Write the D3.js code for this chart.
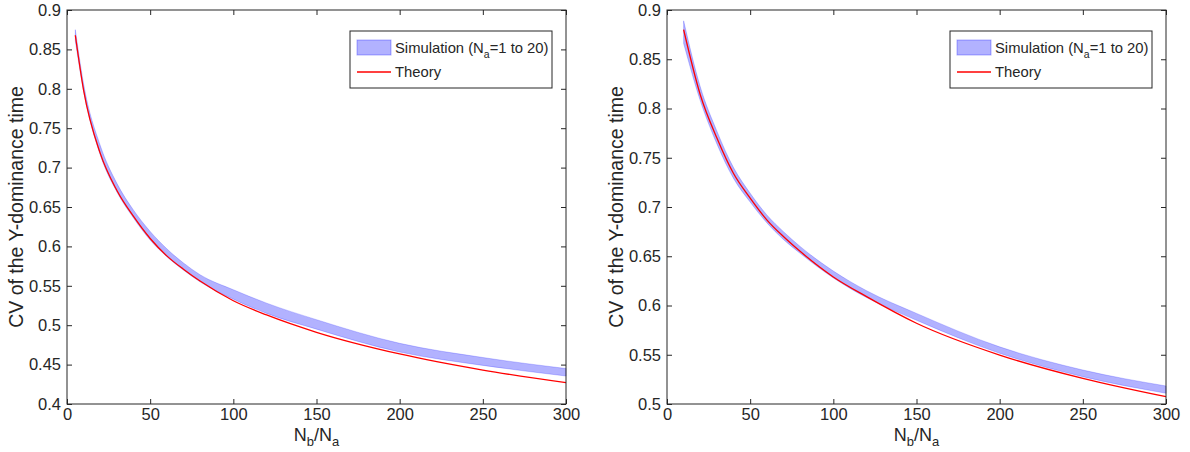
<!DOCTYPE html>
<html>
<head>
<meta charset="utf-8">
<script src="https://cdn.jsdelivr.net/npm/d3@7"></script>
<style>
  body { margin: 0; background: #fff; }
  text { font-family: "Liberation Sans", Arial, sans-serif; fill: #262626; }
</style>
</head>
<body>
<svg width="1190" height="452"></svg>
<script>
// ---- data ----
var xTicks = [0, 50, 100, 150, 200, 250, 300];

// left panel
var leftX      = [5, 10, 20, 30, 40, 50, 60, 70, 80, 100, 120, 150, 200, 250, 300];
var leftTheory = [0.868, 0.798, 0.718, 0.671, 0.638, 0.610, 0.588, 0.571, 0.556, 0.531, 0.513, 0.491, 0.4635, 0.443, 0.427];
var leftSimHi  = [0.875, 0.806, 0.728, 0.680, 0.646, 0.619, 0.597, 0.579, 0.564, 0.545, 0.528, 0.507, 0.477, 0.459, 0.445];
var leftSimLo  = [0.861, 0.797, 0.716, 0.669, 0.636, 0.608, 0.587, 0.570, 0.555, 0.533, 0.515, 0.495, 0.466, 0.449, 0.4355];
var leftYTicks = [0.4, 0.45, 0.5, 0.55, 0.6, 0.65, 0.7, 0.75, 0.8, 0.85, 0.9];

// right panel
var rightX      = [10, 20, 30, 40, 50, 60, 70, 80, 100, 120, 150, 200, 250, 300];
var rightTheory = [0.880, 0.814, 0.770, 0.734, 0.709, 0.687, 0.670, 0.655, 0.629, 0.609, 0.582, 0.5497, 0.526, 0.5074];
var rightSimHi  = [0.889, 0.822, 0.777, 0.740, 0.714, 0.692, 0.675, 0.660, 0.635, 0.615, 0.592, 0.558, 0.5345, 0.5183];
var rightSimLo  = [0.866, 0.808, 0.764, 0.729, 0.705, 0.684, 0.667, 0.653, 0.628, 0.608, 0.585, 0.5515, 0.5277, 0.5109];
var rightYTicks = [0.5, 0.55, 0.6, 0.65, 0.7, 0.75, 0.8, 0.85, 0.9];

var svg = d3.select("svg");

function panel(left, xs, theory, hi, lo, yTicks) {
  var w = 499, h = 394, top = 10;
  var g = svg.append("g").attr("transform", "translate(" + left + "," + top + ")");

  var x = d3.scaleLinear().domain([0, 300]).range([0, w]);
  var y = d3.scaleLinear().domain([yTicks[0], yTicks[yTicks.length - 1]]).range([h, 0]);

  var pts = xs.map(function(d, i) { return {x: d, t: theory[i], hi: hi[i], lo: lo[i]}; });

  // simulation band
  g.append("path")
    .datum(pts)
    .attr("d", d3.area()
      .x(function(d) { return x(d.x); })
      .y0(function(d) { return y(d.lo); })
      .y1(function(d) { return y(d.hi); })
      .curve(d3.curveMonotoneX))
    .attr("fill", "#0000ff")
    .attr("fill-opacity", 0.3)
    .attr("stroke", "#0000ff")
    .attr("stroke-opacity", 0.2)
    .attr("stroke-width", 1);

  // theory
  g.append("path")
    .datum(pts)
    .attr("d", d3.line()
      .x(function(d) { return x(d.x); })
      .y(function(d) { return y(d.t); })
      .curve(d3.curveMonotoneX))
    .attr("fill", "none")
    .attr("stroke", "#ff0000")
    .attr("stroke-width", 1.3);

  // axes, ticks pointing inward like matlab
  var fmt = function(d) { return d3.format("~g")(+d.toFixed(2)); };
  var ax = function(sel) {
    sel.select(".domain").remove();
    sel.selectAll(".tick line").attr("stroke", "#262626");
    sel.selectAll("text").attr("font-size", 16.5).attr("fill", "#262626")
      .style("font-family", "'Liberation Sans', Arial, sans-serif");
  };
  g.append("g").attr("transform", "translate(0," + h + ")")
    .call(d3.axisBottom(x).tickValues(xTicks).tickSize(-5).tickPadding(4)).call(ax);
  g.append("g")
    .call(d3.axisTop(x).tickValues(xTicks).tickSize(-5).tickFormat("")).call(ax);
  g.append("g")
    .call(d3.axisLeft(y).tickValues(yTicks).tickSize(-5).tickPadding(6).tickFormat(fmt)).call(ax);
  g.append("g").attr("transform", "translate(" + w + ",0)")
    .call(d3.axisRight(y).tickValues(yTicks).tickSize(-5).tickFormat("")).call(ax);

  g.append("rect")
    .attr("width", w).attr("height", h)
    .attr("fill", "none").attr("stroke", "#262626").attr("stroke-width", 1);

  // axis labels
  var xl = g.append("text")
    .attr("x", w / 2).attr("y", h + 37)
    .attr("text-anchor", "middle").attr("font-size", 18);
  xl.append("tspan").text("N");
  xl.append("tspan").attr("dy", 5).attr("font-size", 13).text("b");
  xl.append("tspan").attr("dy", -5).text("/N");
  xl.append("tspan").attr("dy", 5).attr("font-size", 13).text("a");

  g.append("text")
    .attr("transform", "translate(-44," + (h / 2) + ") rotate(-90)")
    .attr("text-anchor", "middle").attr("font-size", 19.5)
    .text("CV of the Y-dominance time");

  // legend
  var lg = g.append("g").attr("transform", "translate(283,21)");
  lg.append("rect")
    .attr("width", 202).attr("height", 57)
    .attr("fill", "#fff").attr("stroke", "#262626").attr("stroke-width", 1);
  lg.append("rect")
    .attr("x", 7).attr("y", 9).attr("width", 34).attr("height", 15)
    .attr("fill", "#0000ff").attr("fill-opacity", 0.3)
    .attr("stroke", "#0000ff").attr("stroke-opacity", 0.3);
  var lt = lg.append("text").attr("x", 45).attr("y", 22).attr("font-size", 14.8);
  lt.append("tspan").text("Simulation (N");
  lt.append("tspan").attr("dy", 5).attr("font-size", 10.5).text("a");
  lt.append("tspan").attr("dy", -5).text("=1 to 20)");
  lg.append("line")
    .attr("x1", 7).attr("x2", 41).attr("y1", 41).attr("y2", 41)
    .attr("stroke", "#ff0000").attr("stroke-width", 1.3);
  lg.append("text").attr("x", 45).attr("y", 46).attr("font-size", 14.8).text("Theory");
}

panel(67, leftX, leftTheory, leftSimHi, leftSimLo, leftYTicks);
panel(667, rightX, rightTheory, rightSimHi, rightSimLo, rightYTicks);
</script>
</body>
</html>
